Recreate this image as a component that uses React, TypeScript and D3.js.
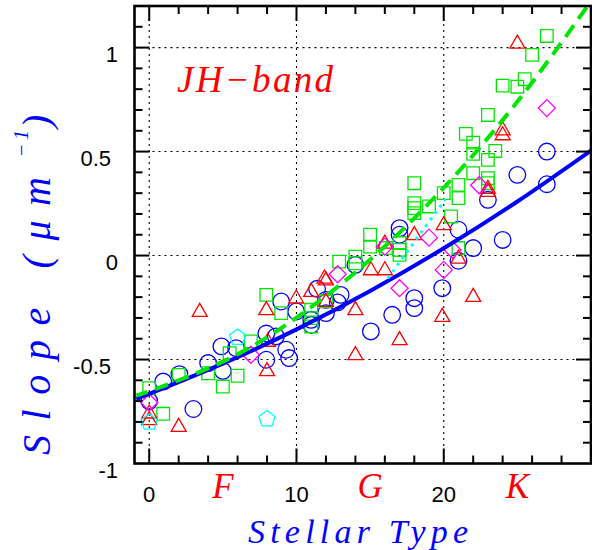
import React from "react";
import * as d3 from "d3";

const W = 592;
const H = 550;
const X0 = 134.5;
const X1 = 591;
const Y0 = 6;
const Y1 = 463.5;

const xDomain: [number, number] = [-1, 30];
const yDomain: [number, number] = [-1, 1.2];
const xMajorTicks = [0, 10, 20];
const xTickLabels = ["0", "10", "20"];
const yMajorTicks = [-1, -0.5, 0, 0.5, 1];
const yTickLabels = ["-1", "-0.5", "0", "0.5", "1"];
const spectralLabels = ["F", "G", "K"];
const spectralPositions = [5, 15, 25];

const blueCircles: [number, number][] = [
  [0, -0.7], [0.95, -0.606], [2.05, -0.57], [3, -0.738], [4, -0.517], [5, -0.555],
  [4.9, -0.437], [5.9, -0.445], [7.95, -0.375], [8.6, -0.389], [7.95, -0.501],
  [9.3, -0.453], [9.5, -0.493], [8.96, -0.221], [9.98, -0.269], [11, -0.309],
  [11, -0.333], [11.4, -0.16], [12, -0.213], [12, -0.277], [12.8, -0.225], [13, -0.189],
  [14, -0.045], [15.05, -0.365], [16.5, -0.285], [17, 0.132], [17, 0.1],
  [18, -0.205], [18, -0.253], [19.9, -0.157], [21, 0.124], [21, -0.025],
  [22, 0.036], [23, 0.268], [24, 0.075], [25, 0.388], [27, 0.5], [27, 0.343],
];

const greenSquares: [number, number][] = [
  [0, -0.638], [0.95, -0.761], [2, -0.574], [4, -0.566], [5, -0.63], [6, -0.578],
  [5.46, -0.469], [6.9, -0.413], [7.95, -0.189], [8.96, -0.277], [11, -0.261],
  [11, -0.301], [11, -0.341], [12, -0.22], [12.9, -0.029], [14, -0.005], [14, -0.037],
  [15, 0.1], [15, 0.043], [16.07, 0.036], [17, 0.06], [17, 0.027], [17, 0.003],
  [18, 0.348], [18, 0.252], [18, 0.228], [18, 0.204], [19, 0.236], [20, 0.3],
  [20.5, 0.188], [21, 0.34], [21, 0.276], [21, 0.036], [21.5, 0.585], [22, 0.543],
  [22, 0.489], [22, 0.396], [23, 0.676], [23, 0.46], [23, 0.372], [23, 0.348],
  [23.5, 0.503], [24, 0.817], [25, 0.812], [25.5, 0.848], [26, 0.965], [27, 1.056],
];

const redTriangles: [number, number][] = [
  [0, -0.75], [0, -0.782], [2, -0.814], [3.43, -0.261], [7.95, -0.253], [8.05, -0.405],
  [8, -0.546], [9.98, -0.197], [11, -0.165], [11.9, -0.101], [12, -0.11], [12, -0.213],
  [14, -0.253], [14, -0.469], [15.05, -0.061], [16, 0.067], [16, -0.061], [17, -0.397],
  [18, 0.108], [19.9, -0.285], [20, 0.156], [21, -0.005], [22, -0.189], [23, 0.316],
  [23, 0.33], [24, 0.612], [24, 0.588], [25, 1.029],
];

const magentaDiamonds: [number, number][] = [
  [0, -0.707], [6.9, -0.477], [12.8, -0.09], [16, 0.043], [17, -0.157], [19, 0.086],
  [20, -0.069], [20.6, 0.027], [22.4, 0.338], [27, 0.709],
];

const cyanPentagons: [number, number][] = [
  [0, -0.798], [6.0, -0.39], [8, -0.782],
];

const blueFit: [number, number][] = [
  [-1, -0.692], [0, -0.665], [5, -0.52], [10, -0.355], [15, -0.17], [20, 0.035], [25, 0.26], [30, 0.505],
];
const greenFit: [number, number][] = [
  [-1, -0.672], [0, -0.652], [5, -0.51], [10, -0.299], [15, -0.02], [20, 0.326], [25, 0.74], [30, 1.223],
];
const cyanFit: [number, number][] = [
  [16.2, -0.11], [20.1, 0.27],
];

const BLUE = "#0000ff";
const GREEN = "#00e600";
const RED = "#ff0000";
const MAGENTA = "#ff00ff";
const CYAN = "#00ffff";

function squarePath(s: number) {
  return `M${-s},${-s}H${s}V${s}H${-s}Z`;
}
function trianglePath(w: number, h: number) {
  return `M0,${-h / 2}L${w / 2},${h / 2}L${-w / 2},${h / 2}Z`;
}
function diamondPath(r: number) {
  return `M0,${-r}L${r},0L0,${r}L${-r},0Z`;
}
function pentagonPath(r: number) {
  const pts = d3.range(5).map((i) => {
    const a = -Math.PI / 2 + (i * 2 * Math.PI) / 5;
    return [r * Math.cos(a), r * Math.sin(a) + r * 0.1];
  });
  return "M" + pts.map((p) => p.join(",")).join("L") + "Z";
}

export default function App() {
  const x = d3.scaleLinear().domain(xDomain).range([X0, X1]);
  const y = d3.scaleLinear().domain(yDomain).range([Y1, Y0]);
  const line = d3
    .line<[number, number]>()
    .x((d) => x(d[0]))
    .y((d) => y(d[1]))
    .curve(d3.curveNatural);

  const minorX = d3.range(0, 30, 2);
  const minorY = d3.range(-9, 12).map((v) => v / 10);
  const sans = "'Liberation Sans', Arial, sans-serif";
  const serif = "'Liberation Serif', 'DejaVu Serif', serif";

  const marker = (key: string, d: [number, number], path: string, color: string) => (
    <path
      key={key}
      d={path}
      transform={`translate(${x(d[0])},${y(d[1])})`}
      fill="none"
      stroke={color}
      strokeWidth={1.3}
    />
  );

  return (
    <svg
      width={W}
      height={H}
      style={{ position: "absolute", left: 0, top: 0, background: "#fff" }}
    >
      <defs>
        <clipPath id="plotclip">
          <rect x={X0} y={Y0} width={X1 - X0} height={Y1 - Y0} />
        </clipPath>
      </defs>
      <rect x={0} y={0} width={W} height={H} fill="#fff" />
      {xMajorTicks.map((t) => (
        <line key={"gx" + t} x1={x(t)} x2={x(t)} y1={Y0} y2={Y1} stroke="#000" strokeWidth={1.1} strokeDasharray="2 4" />
      ))}
      {yMajorTicks.filter((t) => t > -1).map((t) => (
        <line key={"gy" + t} x1={X0} x2={X1} y1={y(t)} y2={y(t)} stroke="#000" strokeWidth={1.1} strokeDasharray="2 4" />
      ))}
      <g clipPath="url(#plotclip)">
        {blueCircles.map((d, i) => (
          <circle key={"c" + i} cx={x(d[0])} cy={y(d[1])} r={8.3} fill="none" stroke={BLUE} strokeWidth={1.3} />
        ))}
        {greenSquares.map((d, i) => marker("s" + i, d, squarePath(6.3), GREEN))}
        {redTriangles.map((d, i) => marker("t" + i, d, trianglePath(15, 13), RED))}
        {magentaDiamonds.map((d, i) => marker("d" + i, d, diamondPath(8.5), MAGENTA))}
        {cyanPentagons.map((d, i) => marker("p" + i, d, pentagonPath(8.5), CYAN))}
        <path d={line(blueFit) || ""} fill="none" stroke={BLUE} strokeWidth={4} />
        <path d={line(greenFit) || ""} fill="none" stroke={GREEN} strokeWidth={4} strokeDasharray="14 8" />
        <path d={line(cyanFit) || ""} fill="none" stroke={CYAN} strokeWidth={3} strokeDasharray="3 5" />
      </g>
      {minorX.map((t) => {
        const len = xMajorTicks.includes(t) ? 15 : 8;
        return (
          <g key={"tx" + t}>
            <line x1={x(t)} x2={x(t)} y1={Y1} y2={Y1 - len} stroke="#000" strokeWidth={2} />
            <line x1={x(t)} x2={x(t)} y1={Y0} y2={Y0 + len} stroke="#000" strokeWidth={2} />
          </g>
        );
      })}
      {minorY.map((t) => {
        const major = Math.abs(t * 2 - Math.round(t * 2)) < 1e-6;
        const len = major ? 15 : 8;
        return (
          <g key={"ty" + t}>
            <line x1={X0} x2={X0 + len} y1={y(t)} y2={y(t)} stroke="#000" strokeWidth={2} />
            <line x1={X1} x2={X1 - len} y1={y(t)} y2={y(t)} stroke="#000" strokeWidth={2} />
          </g>
        );
      })}
      <rect x={X0} y={Y0} width={X1 - X0} height={Y1 - Y0} fill="none" stroke="#000" strokeWidth={2.6} />
      {xMajorTicks.map((t, i) => (
        <text key={"lx" + t} x={x(t)} y={502} textAnchor="middle" fontFamily={sans} fontSize={22} fill="#000">
          {xTickLabels[i]}
        </text>
      ))}
      {yMajorTicks.map((t, i) => (
        <text
          key={"ly" + t}
          x={yTickLabels[i].includes(".") ? 111 : 118}
          y={y(t) + 14}
          textAnchor="end"
          fontFamily={sans}
          fontSize={22}
          fill="#000"
        >
          {yTickLabels[i]}
        </text>
      ))}
      {spectralLabels.map((s, i) => (
        <text
          key={"sp" + s}
          x={x(spectralPositions[i])}
          y={498}
          textAnchor="middle"
          fontFamily={serif}
          fontStyle="italic"
          fontSize={35}
          fill={RED}
        >
          {s}
        </text>
      ))}
      <text x={248} y={543} fontFamily={serif} fontStyle="italic" fontSize={34} fill={BLUE} textLength={220} lengthAdjust="spacing">
        Stellar Type
      </text>
      <text x={177} y={92} fontFamily={serif} fontStyle="italic" fontSize={37} fill={RED} textLength={156} lengthAdjust="spacing">
        JH−band
      </text>
      <g transform="translate(50,455) rotate(-90)">
        <text x={0} y={0} fontFamily={serif} fontStyle="italic" fontSize={40} fill={BLUE} textLength={278} lengthAdjust="spacing">
          Slope (μm
        </text>
        <text x={298} y={-22} fontFamily={serif} fontStyle="italic" fontSize={20} fill={BLUE} textLength={27} lengthAdjust="spacing">
          −1
        </text>
        <text x={327} y={0} fontFamily={serif} fontStyle="italic" fontSize={40} fill={BLUE}>
          )
        </text>
      </g>
    </svg>
  );
}
